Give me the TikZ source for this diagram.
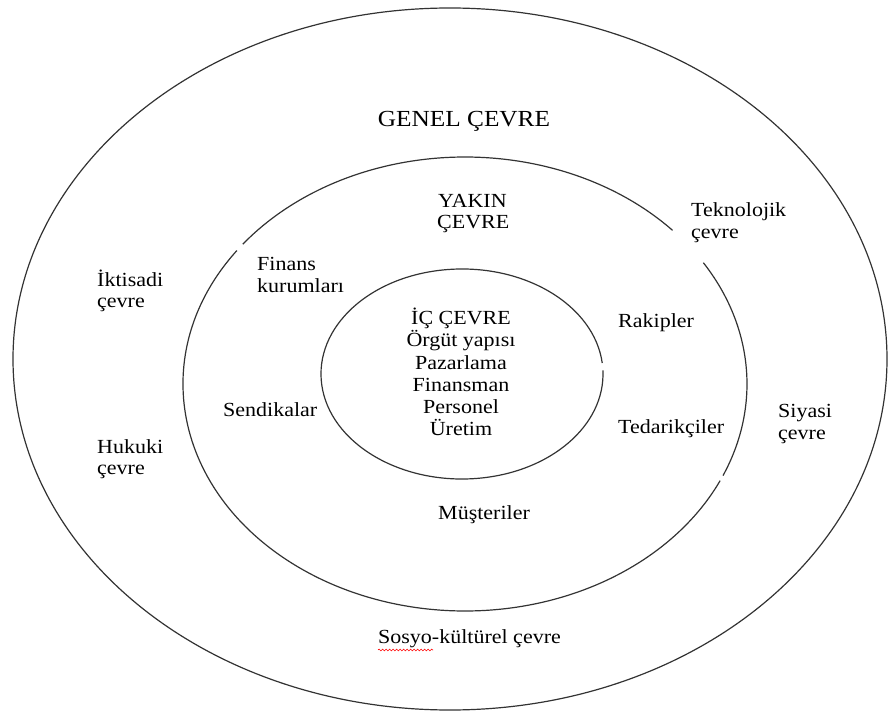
\documentclass[tikz,border=0pt]{standalone}
\usepackage{fontspec}
\setmainfont{Liberation Serif}[FakeStretch=1.1]
\usetikzlibrary{decorations.pathmorphing}
\tikzset{
  ring/.style={line width=1.2pt, draw=black!80},
  lbl/.style={inner sep=0pt, font=\fontsize{20}{22}\selectfont, anchor=base west},
  lblc/.style={lbl, anchor=base},
  title/.style={inner sep=0pt, font=\fontsize{23}{26}\selectfont, anchor=base},
  spell/.style={draw=red, line width=0.6pt, decorate, decoration={snake, amplitude=0.9pt, segment length=3.5pt}}
}
\begin{document}
\begin{tikzpicture}[x=1pt,y=1pt]
\useasboundingbox (0,0) rectangle (889,716);
% centres
\coordinate (oc) at (450,357);
\coordinate (mc) at (465,332);
\coordinate (ic) at (462,342);
% outer ellipse
\draw[ring] (oc) ellipse [x radius=437pt, y radius=351pt];
% middle ellipse with gaps
\draw[ring] (mc) ++(42.6:282pt and 227pt) arc[start angle=42.6, end angle=142, x radius=282pt, y radius=227pt];
\draw[ring] (mc) ++(144:282pt and 227pt) arc[start angle=144, end angle=334.8, x radius=282pt, y radius=227pt];
\draw[ring] (mc) ++(336.2:282pt and 227pt) arc[start angle=336.2, end angle=392.3, x radius=282pt, y radius=227pt];
% inner ellipse
\draw[ring] (ic) ++(6:141pt and 105pt) arc[start angle=6, end angle=362, x radius=141pt, y radius=105pt];
% texts
\node[title] (genel) at (464,589) {GENEL ÇEVRE};
\node[lbl] (yakin1) at (438,508) {YAKIN};
\node[lbl] (yakin2) at (437,487) {ÇEVRE};
\node[lbl] (tek1) at (691,499) {Teknolojik};
\node[lbl] (tek2) at (691,477) {çevre};
\node[lbl] (fin1) at (257,445) {Finans};
\node[lbl] (fin2) at (257,423) {kurumları};
\node[lbl] (ikt1) at (97,429) {İktisadi};
\node[lbl] (ikt2) at (97,408) {çevre};
\node[lblc] (ic1) at (461,391) {İÇ ÇEVRE};
\node[lblc] (ic2) at (461,369) {Örgüt yapısı};
\node[lblc] (ic3) at (461,347) {Pazarlama};
\node[lblc] (ic4) at (461,325) {Finansman};
\node[lblc] (ic5) at (461,303) {Personel};
\node[lblc] (ic6) at (461,281) {Üretim};
\node[lbl] (rak) at (618,388) {Rakipler};
\node[lbl] (sen) at (223,300) {Sendikalar};
\node[lbl] (ted) at (618,283) {Tedarikçiler};
\node[lbl] (siy1) at (778,299) {Siyasi};
\node[lbl] (siy2) at (778,277) {çevre};
\node[lbl] (huk1) at (97,263) {Hukuki};
\node[lbl] (huk2) at (97,242) {çevre};
\node[lbl] (mus) at (438,197) {Müşteriler};
\node[lbl] (sos) at (378,73) {Sosyo-kültürel çevre};
% spell-check underline
\coordinate (w1) at (378,66);
\coordinate (w2) at (433,66);
\draw[spell] (w1) -- (w2);
\end{tikzpicture}
\end{document}
